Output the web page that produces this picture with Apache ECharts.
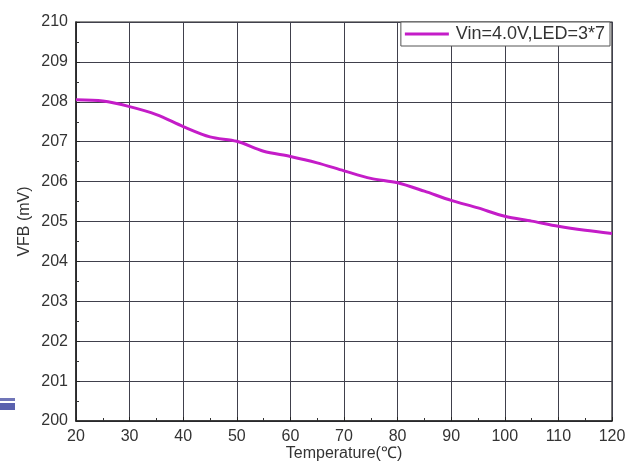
<!DOCTYPE html>
<html>
<head>
<meta charset="utf-8">
<script src="https://cdn.jsdelivr.net/npm/echarts@6/dist/echarts.min.js"></script>
<style>html,body{margin:0;padding:0;background:#fff}#c{width:640px;height:466px}</style>
</head>
<body>
<div id="c"></div>
<script>
const temps = [20,25,30,35,40,45,50,55,60,65,70,75,80,85,90,95,100,105,110,115,120];
const vfb = [208.05,208.02,207.88,207.68,207.38,207.12,207.01,206.76,206.63,206.47,206.27,206.08,205.97,205.76,205.53,205.34,205.13,205.01,204.88,204.78,204.70];
const seriesName = 'Vin=4.0V,LED=3*7';
const xName = 'Temperature(℃)';
const yName = 'VFB (mV)';

const chart = echarts.init(document.getElementById('c'), null, {renderer:'canvas'});
const font = 'Liberation Sans, Arial, sans-serif';
chart.setOption({
  animation:false,
  backgroundColor:'#fff',
  grid:{left:76,top:22,right:28,bottom:45,containLabel:false,outerBoundsMode:'none',show:true,borderColor:'#222',borderWidth:1.2,backgroundColor:'transparent'},
  legend:{
    show:true, right:30, top:22,
    data:[{name:seriesName, icon:'rect'}],
    borderColor:'#555', borderWidth:1, padding:[3,5,3,4],
    itemWidth:44, itemHeight:3, itemGap:0,
    backgroundColor:'#fff',
    textStyle:{fontFamily:font,fontSize:18,color:'#333',padding:[0,0,0,2]}
  },
  xAxis:{
    type:'value', min:20, max:120, interval:10,
    name:xName, nameLocation:'middle', nameGap:25, nameMoveOverlap:false,
    nameTextStyle:{fontFamily:font,fontSize:16,color:'#333'},
    axisLine:{show:true,lineStyle:{color:'#222',width:1.5}},
    axisTick:{show:true,inside:true,length:4,lineStyle:{color:'#222'}},
    minorTick:{show:true,splitNumber:2,length:3,lineStyle:{color:'#333'}},
    axisLabel:{fontFamily:font,fontSize:16,color:'#333',margin:8},
    splitLine:{show:true,lineStyle:{color:'#40404c',width:1}}
  },
  yAxis:{
    type:'value', min:200, max:210, interval:1,
    name:yName, nameLocation:'middle', nameGap:43, nameRotate:90, nameMoveOverlap:false,
    nameTextStyle:{fontFamily:font,fontSize:16,color:'#333'},
    axisLine:{show:true,lineStyle:{color:'#222',width:1.5}},
    axisTick:{show:true,inside:true,length:4,lineStyle:{color:'#222'}},
    minorTick:{show:true,splitNumber:2,length:3,lineStyle:{color:'#333'}},
    axisLabel:{fontFamily:font,fontSize:16,color:'#333',margin:8},
    splitLine:{show:true,lineStyle:{color:'#40404c',width:1}}
  },
  series:[{
    name:seriesName, type:'line', smooth:0.3, symbol:'none',
    data:temps.map((t,i)=>[t,vfb[i]]),
    lineStyle:{color:'#c41cc8',width:3},
    itemStyle:{color:'#c41cc8'}
  }],
  graphic:[
    {type:'rect',shape:{x:0,y:398,width:15,height:3},style:{fill:'#7075b8'}},
    {type:'rect',shape:{x:0,y:403,width:15,height:7},style:{fill:'#5a61ae'}}
  ]
});
</script>
</body>
</html>
